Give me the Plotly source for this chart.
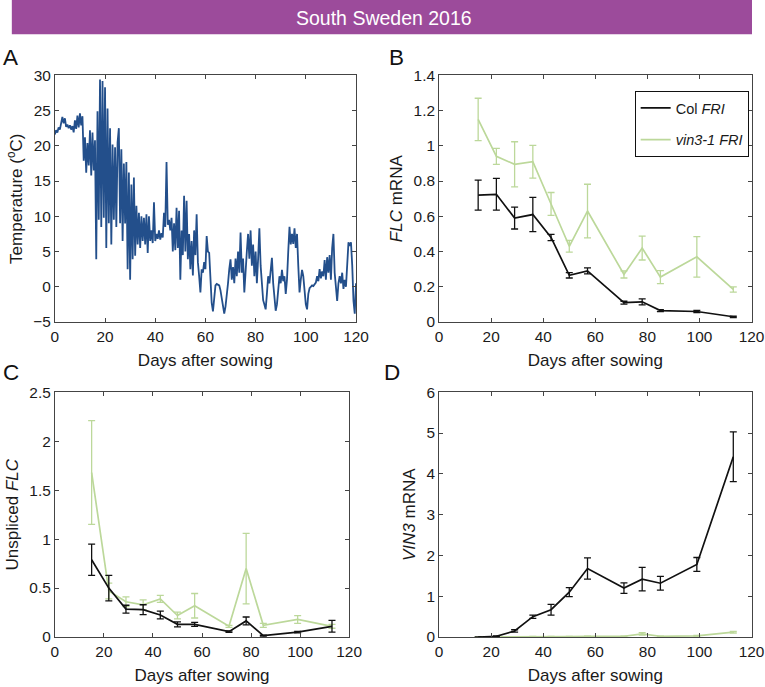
import plotly.graph_objects as go

# ---------------- data ----------------
# Panel A: air temperature, sampled every half day from sowing (day 0 .. 120)
temp_step_days = 0.5
temperature = [
    21.6, 22.2, 21.9, 22.6, 22.3, 23.0, 24.1, 23.2, 23.9, 22.7,
    23.0, 22.5, 22.9, 22.3, 22.8, 21.9, 23.6, 22.4, 24.3, 22.6,
    24.6, 22.9, 24.2, 17.9, 21.2, 16.2, 20.4, 17.2, 22.2, 15.8,
    21.9, 16.5, 20.8, 3.9, 24.9, 9.5, 29.4, 8.5, 29.2, 9.8,
    28.3, 5.5, 25.3, 9.0, 22.5, 6.0, 20.2, 9.5, 19.8, 8.5,
    20.5, 22.5, 9.0, 19.5, 6.5, 17.5, 9.0, 17.7, 2.5, 16.2,
    1.0, 14.5, 3.9, 15.5, 4.4, 11.5, 6.0, 10.5, 5.5, 10.0,
    6.5, 9.8, 6.0, 10.3, 4.8, 10.0, 6.5, 8.0, 6.2, 12.0,
    6.5, 7.5, 6.8, 8.0, 6.7, 7.6, 7.0, 10.5, 8.5, 17.7,
    8.8, 9.5, 8.0, 9.8, 5.0, 9.0, 5.2, 11.2, 5.5, 10.8,
    1.0, 8.0, 4.5, 12.9, 5.0, 12.2, 3.9, 7.5, 2.5, 6.5,
    1.6, 8.0, 4.5, 10.3, 3.5, 1.5, -0.8, 2.5, 2.0, 3.5,
    2.5, 7.2, 5.0, 4.8, 1.0, -2.3, -3.5, -2.0, 0.2, 0.4,
    0.3, 0.2, -0.5, -1.5, -2.5, -3.8, -2.8, -1.5, 0.5, 2.5,
    3.9, 1.0, 2.8, 0.5, 4.0, 1.5, 5.0, 2.0, 7.7, 2.0,
    4.0, -0.8, 3.0, 5.0, 7.5, 4.0, 8.0, 3.0, 6.0, 1.5,
    5.0, 0.5, 4.0, 8.3, 3.0, 0.5, -1.9, -2.5, -3.2, -1.0,
    1.5, 0.5, 3.0, 4.1, 0.5, -2.0, -3.4, -2.5, 0.0, 1.5,
    0.5, 2.4, 0.8, 1.5, -1.0, 1.0, 5.0, 8.5, 6.0, 7.5,
    6.1, 8.3, 5.5, 7.5, 3.0, -0.8, 1.0, 2.4, 1.5, -0.5,
    -2.5, -3.2, -1.0, -0.2, 0.0, 0.2, 0.1, 0.4, 0.6, 1.5,
    0.8, 2.5, 1.2, 2.2, 1.5, 3.8, 1.0, 4.2, 2.0, 4.5,
    1.0, 5.5, 7.5, 2.0, -0.5, -2.0, 0.5, 1.5, 0.5, 2.0,
    -0.3, 1.0, 0.0, 4.0, 6.3, 5.8, 6.3, 3.0, -2.0, -3.8,
    0.5,
]
temp_days = [i * temp_step_days for i in range(len(temperature))]

# Sampling days for panels B-D
days = [15, 22, 29, 36, 43, 50, 57, 71, 78, 85, 99, 113]

# Panel B: FLC mRNA
flc_col = [0.72, 0.725, 0.59, 0.61, 0.48, 0.265, 0.29, 0.11, 0.115, 0.065, 0.06, 0.03]
flc_col_err = [0.085, 0.09, 0.062, 0.097, 0.018, 0.015, 0.017, 0.008, 0.017, 0.006, 0.006, 0.004]
flc_vin = [1.15, 0.94, 0.895, 0.91, 0.67, 0.43, 0.63, 0.27, 0.42, 0.255, 0.37, 0.185]
flc_vin_err = [0.12, 0.045, 0.128, 0.093, 0.065, 0.033, 0.152, 0.02, 0.068, 0.037, 0.115, 0.015]

# Panel C: unspliced FLC
unsp_col = [0.79, 0.50, 0.285, 0.28, 0.225, 0.13, 0.13, 0.055, 0.165, 0.015, 0.05, 0.11]
unsp_col_err = [0.16, 0.13, 0.04, 0.05, 0.04, 0.025, 0.02, 0.008, 0.04, 0.005, 0.008, 0.06]
unsp_vin = [1.68, 0.47, 0.36, 0.33, 0.39, 0.22, 0.32, 0.11, 0.70, 0.12, 0.18, 0.11]
unsp_vin_err = [0.53, 0.08, 0.05, 0.05, 0.035, 0.035, 0.125, 0.01, 0.36, 0.02, 0.04, 0.02]

# Panel D: VIN3 mRNA
vin3_col = [0.0, 0.02, 0.15, 0.5, 0.67, 1.1, 1.68, 1.2, 1.42, 1.32, 1.78, 4.42]
vin3_col_err = [0.005, 0.01, 0.03, 0.04, 0.13, 0.11, 0.26, 0.13, 0.29, 0.17, 0.17, 0.61]
vin3_vin = [0.0, 0.0, 0.005, 0.01, 0.01, 0.01, 0.02, 0.02, 0.08, 0.02, 0.03, 0.12]
vin3_vin_err = [0.002, 0.002, 0.003, 0.004, 0.004, 0.004, 0.005, 0.005, 0.03, 0.005, 0.008, 0.02]

title_text = "South Sweden 2016"
legend_names = ["Col <i>FRI</i>", "<i>vin3-1 FRI</i>"]

# ---------------- styling ----------------
W, H = 765, 687
BLACK = "#111111"
GREEN = "#bcd89a"
BLUE = "#234f8b"
PURPLE = "#9c4b9b"
AXCOL = "#444444"
FONT = "Liberation Sans, Arial, sans-serif"
TXT = "#1a1a1a"


def px_x(p):
    return p / W


def px_y(p):
    return 1 - p / H


fig = go.Figure()

# Panel A
fig.add_trace(go.Scatter(x=temp_days, y=temperature, mode="lines",
                         line=dict(color=BLUE, width=1.8), showlegend=False,
                         xaxis="x", yaxis="y"))


def add_pair(col, col_err, vin, vin_err, xa, ya, show):
    fig.add_trace(go.Scatter(
        x=days, y=vin, mode="lines", name=legend_names[1],
        line=dict(color=GREEN, width=1.7),
        error_y=dict(type="data", array=vin_err, color=GREEN, thickness=1.3, width=3.5),
        showlegend=show, legendgroup="g2", legendrank=2, xaxis=xa, yaxis=ya))
    fig.add_trace(go.Scatter(
        x=days, y=col, mode="lines", name=legend_names[0],
        line=dict(color=BLACK, width=1.7),
        error_y=dict(type="data", array=col_err, color=BLACK, thickness=1.3, width=3.5),
        showlegend=show, legendgroup="g1", legendrank=1, xaxis=xa, yaxis=ya))


add_pair(flc_col, flc_col_err, flc_vin, flc_vin_err, "x2", "y2", True)
add_pair(unsp_col, unsp_col_err, unsp_vin, unsp_vin_err, "x3", "y3", False)
add_pair(vin3_col, vin3_col_err, vin3_vin, vin3_vin_err, "x4", "y4", False)

common_ax = dict(showline=True, linecolor=AXCOL, linewidth=1, mirror="allticks",
                 ticks="inside", ticklen=4, tickcolor=AXCOL, showgrid=False,
                 zeroline=False, tickfont=dict(family=FONT, size=15.4, color=TXT))
xtitle = dict(text="Days after sowing", font=dict(family=FONT, size=17, color=TXT), standoff=10)


def ytitle(t):
    return dict(text=t, font=dict(family=FONT, size=17, color=TXT), standoff=6)


domA_x = [px_x(52), px_x(360)]
domB_x = [px_x(445), px_x(764.5)]
domC_x = [px_x(52), px_x(353)]
domD_x = [px_x(445), px_x(764.5)]
dom_top = [px_y(321), px_y(68)]
dom_bot = [px_y(644), px_y(393)]

fig.update_layout(
    width=W, height=H,
    margin=dict(l=0, r=0, t=0, b=0),
    paper_bgcolor="white", plot_bgcolor="white",
    font=dict(family=FONT, color=TXT),
    xaxis=dict(domain=domA_x, anchor="y", range=[0, 120], dtick=20, title=xtitle, **common_ax),
    yaxis=dict(domain=dom_top, anchor="x", range=[-5, 30], dtick=5,
               title=ytitle("Temperature (<sup>o</sup>C)"), **common_ax),
    xaxis2=dict(domain=domB_x, anchor="y2", range=[0, 120], dtick=20, title=xtitle, **common_ax),
    yaxis2=dict(domain=dom_top, anchor="x2", range=[0, 1.4], dtick=0.2,
                title=ytitle("<i>FLC</i> mRNA"), **common_ax),
    xaxis3=dict(domain=domC_x, anchor="y3", range=[0, 120], dtick=20, title=xtitle, **common_ax),
    yaxis3=dict(domain=dom_bot, anchor="x3", range=[0, 2.5], dtick=0.5,
                title=ytitle("Unspliced <i>FLC</i>"), **common_ax),
    xaxis4=dict(domain=domD_x, anchor="y4", range=[0, 120], dtick=20, title=xtitle, **common_ax),
    yaxis4=dict(domain=dom_bot, anchor="x4", range=[0, 6], dtick=1,
                title=ytitle("<i>VIN3</i> mRNA"), **common_ax),
    legend=dict(x=px_x(645), y=px_y(84), xanchor="left", yanchor="top",
                bordercolor="#111111", borderwidth=1, bgcolor="white",
                font=dict(family=FONT, size=14.5, color=TXT),
                tracegroupgap=10, traceorder="grouped"),
    showlegend=True,
)

# Title band
fig.add_shape(type="rect", xref="paper", yref="paper", x0=px_x(8), x1=px_x(765),
              y0=px_y(26), y1=1.03, fillcolor=PURPLE, line=dict(width=0), layer="below")
fig.add_annotation(text=title_text, xref="paper", yref="paper", x=px_x(389), y=px_y(9.5),
                   showarrow=False, font=dict(family=FONT, size=19.5, color="white"),
                   xanchor="center", yanchor="middle")

# Panel letters
for letter, (lx, ly) in {"A": (7, 50), "B": (401, 50), "C": (7, 373), "D": (397, 373)}.items():
    fig.add_annotation(text=letter, xref="paper", yref="paper", x=px_x(lx), y=px_y(ly),
                       showarrow=False, font=dict(family=FONT, size=22.5, color="#111111"),
                       xanchor="center", yanchor="middle")

fig.write_html(
    "out.html",
    config={"displayModeBar": False},
    post_script=("document.documentElement.style.margin='0';"
                 "document.documentElement.style.overflow='hidden';"
                 "document.body.style.margin='0';document.body.style.padding='0';"
                 "document.body.style.overflow='hidden';"),
)
